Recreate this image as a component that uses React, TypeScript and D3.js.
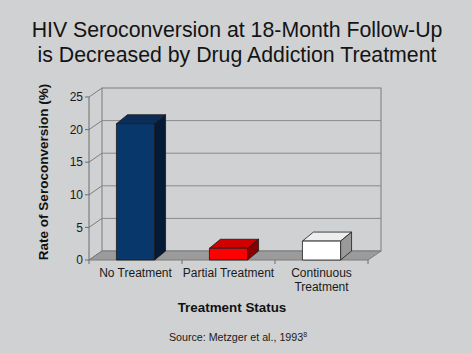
import * as d3 from 'd3'

const categories = ['No Treatment', 'Partial Treatment', 'Continuous Treatment']
const categoryLines = [['No Treatment'], ['Partial Treatment'], ['Continuous', 'Treatment']]
const rates = [20.9, 1.8, 2.9]
const yTicks = [0, 5, 10, 15, 20, 25]

// front / top / side colours for each bar
const barColors = [
  { front: '#08386b', top: '#0c2d58', side: '#041a36' },
  { front: '#ff0000', top: '#d00000', side: '#8a0000' },
  { front: '#ffffff', top: '#eeeeee', side: '#9a9a9a' },
]

const W = 472
const H = 353
const font = '"Liberation Sans", Arial, sans-serif'

export default function App() {
  const left = 89
  const right = 368
  const bottom = 260
  const top = 97
  const dx = 13
  const dy = -9
  const bdx = 11
  const bdy = -9

  const x = d3.scaleBand<string>()
    .domain(categories)
    .range([left, right])
    .paddingInner(0.59)
    .paddingOuter(0.295)

  const y = d3.scaleLinear().domain([0, 25]).range([bottom, top])

  const poly = (pts: [number, number][]) => pts.map(p => p.join(',')).join(' ')

  return (
    <svg width={W} height={H} style={{ position: 'absolute', left: 0, top: 0 }} fontFamily={font}>
      <rect width={W} height={H} fill="#d0d1d3" />

      <text x={237} y={37} textAnchor="middle" fontSize={21.3} fill="#141414">
        HIV Seroconversion at 18-Month Follow-Up
      </text>
      <text x={237} y={62} textAnchor="middle" fontSize={21.3} fill="#141414">
        is Decreased by Drug Addiction Treatment
      </text>

      {/* back wall */}
      <rect x={left + dx} y={y(25) + dy} width={right - left} height={bottom - top}
        fill="#d0d1d3" stroke="#7d7d7d" strokeWidth={1} />
      {yTicks.slice(1, -1).map(t => (
        <line key={'g' + t} x1={left + dx} x2={right + dx} y1={y(t) + dy} y2={y(t) + dy}
          stroke="#8a8a8a" strokeWidth={1} />
      ))}

      {/* side wall diagonals */}
      {yTicks.map(t => (
        <line key={'d' + t} x1={left} y1={y(t)} x2={left + dx} y2={y(t) + dy}
          stroke="#7d7d7d" strokeWidth={1} />
      ))}

      {/* floor */}
      <polygon
        points={poly([[left, bottom], [right, bottom], [right + dx, bottom + dy], [left + dx, bottom + dy]])}
        fill="#9b9b9b" stroke="#7a7a7a" strokeWidth={1} />

      {/* front axis */}
      <line x1={left} x2={left} y1={y(0)} y2={y(25)} stroke="#6d6d6d" strokeWidth={1} />
      {yTicks.map(t => (
        <g key={'t' + t}>
          <line x1={left - 4} x2={left} y1={y(t)} y2={y(t)} stroke="#6d6d6d" strokeWidth={1} />
          <text x={left - 6} y={y(t)} dy="0.35em" textAnchor="end" fontSize={12} fill="#1a1a1a">{t}</text>
        </g>
      ))}
      {[left, ...categories.map(c => (x(c) ?? 0) + x.bandwidth() / 2 + x.step() / 2)].map((px, i) => (
        <line key={'c' + i} x1={px} x2={px} y1={bottom} y2={bottom + 4} stroke="#6d6d6d" strokeWidth={1} />
      ))}

      {/* bars */}
      {categories.map((c, i) => {
        const x0 = x(c) ?? 0
        const x1 = x0 + x.bandwidth()
        const yt = y(rates[i])
        const col = barColors[i]
        return (
          <g key={c} stroke="#1a1a1a" strokeWidth={0.8} strokeLinejoin="round">
            <polygon points={poly([[x0, yt], [x1, yt], [x1 + bdx, yt + bdy], [x0 + bdx, yt + bdy]])} fill={col.top} />
            <polygon points={poly([[x1, yt], [x1 + bdx, yt + bdy], [x1 + bdx, bottom + bdy], [x1, bottom]])} fill={col.side} />
            <rect x={x0} y={yt} width={x1 - x0} height={bottom - yt} fill={col.front} />
          </g>
        )
      })}

      {/* category labels */}
      {categories.map((c, i) => (
        <text key={'l' + c} x={(x(c) ?? 0) + x.bandwidth() / 2} y={277} textAnchor="middle" fontSize={12} fill="#1a1a1a">
          {categoryLines[i].map((ln, j) => (
            <tspan key={j} x={(x(c) ?? 0) + x.bandwidth() / 2} dy={j === 0 ? 0 : 14}>{ln}</tspan>
          ))}
        </text>
      ))}

      <text x={232} y={312} textAnchor="middle" fontSize={13.4} fontWeight="bold" fill="#111">Treatment Status</text>

      <text transform={`translate(48,172) rotate(-90)`} textAnchor="middle" fontSize={13.5} fontWeight="bold" fill="#111">
        Rate of Seroconversion (%)
      </text>

      <text x={238} y={341} textAnchor="middle" fontSize={10.7} fill="#1a1a1a">
        Source: Metzger et al., 1993<tspan fontSize={7} dy={-4}>8</tspan>
      </text>
    </svg>
  )
}
